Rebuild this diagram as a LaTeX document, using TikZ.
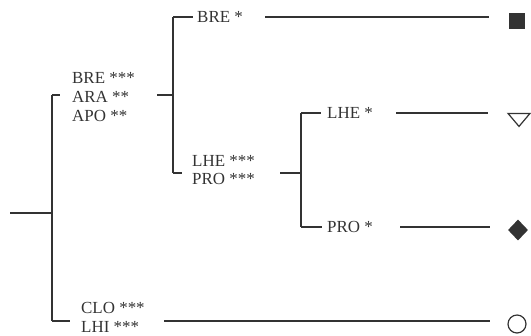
\documentclass[tikz,border=0pt]{standalone}
\usepackage{fontspec}
\setmainfont{Liberation Serif}
\usetikzlibrary{shapes.geometric}
\definecolor{ink}{HTML}{333333}
\tikzset{
  branch/.style={draw=ink, line width=2bp},
  taxa/.style={anchor=west, inner sep=0pt, align=left, text=ink,
    font=\fontsize{17}{19}\selectfont}
}
\begin{document}
\begin{tikzpicture}[x=1bp, y=-1bp]
\useasboundingbox (0,0) rectangle (531,335);
% junctions
\coordinate (root) at (10,213);
\coordinate (jA) at (52,213);
\coordinate (jAt) at (52,95);
\coordinate (jAb) at (52,321);
\coordinate (jB) at (173,95);
\coordinate (jBt) at (173,17);
\coordinate (jBb) at (173,173);
\coordinate (jC) at (301,173);
\coordinate (jCt) at (301,113);
\coordinate (jCb) at (301,227);
% labels
\node[taxa] (bra) at (72,97) {BRE ***\\ARA **\\APO **};
\node[taxa] (bre) at (197,17) {BRE *};
\node[taxa] (lhp) at (192,170) {LHE ***\\PRO ***};
\node[taxa] (lhe) at (327,113) {LHE *};
\node[taxa] (pro) at (327,227) {PRO *};
\node[taxa] (clo) at (81,317) {CLO ***\\LHI ***};
% line ends
\coordinate (braE) at (157,95);
\coordinate (breE) at (265,17);
\coordinate (lhpE) at (280,173);
\coordinate (lheE) at (396,113);
\coordinate (proE) at (400,227);
\coordinate (cloE) at (164,321);
% markers
\node[fill=ink, minimum size=16bp, inner sep=0pt] (sq) at (516.5,21) {};
\node[isosceles triangle, shape border rotate=-90, isosceles triangle stretches,
  minimum width=22bp, minimum height=13bp, inner sep=0pt, draw=ink, line width=1.2bp] (tri) at (519,118.5) {};
\node[diamond, fill=ink, minimum width=20bp, minimum height=21bp, inner sep=0pt] (dia) at (518,230) {};
\node[circle, draw=ink, line width=1.2bp, minimum size=18bp, inner sep=0pt] (cir) at (517,324) {};
% tree
\draw[branch] (root) -- (jA);
\draw[branch] (jAt) -- (jAb);
\draw[branch] (jAt) -- (60,95);
\draw[branch] (jAb) -- (70,321);
\draw[branch] (braE) -- (jB);
\draw[branch] (jBt) -- (jBb);
\draw[branch] (jBt) -- (193,17);
\draw[branch] (jBb) -- (182,173);
\draw[branch] (lhpE) -- (jC);
\draw[branch] (jCt) -- (jCb);
\draw[branch] (jCt) -- (321,113);
\draw[branch] (jCb) -- (322,227);
% to the markers
\draw[branch] (breE) -- (489,17);
\draw[branch] (lheE) -- (488,113);
\draw[branch] (proE) -- (490,227);
\draw[branch] (cloE) -- (490,321);
\end{tikzpicture}
\end{document}
